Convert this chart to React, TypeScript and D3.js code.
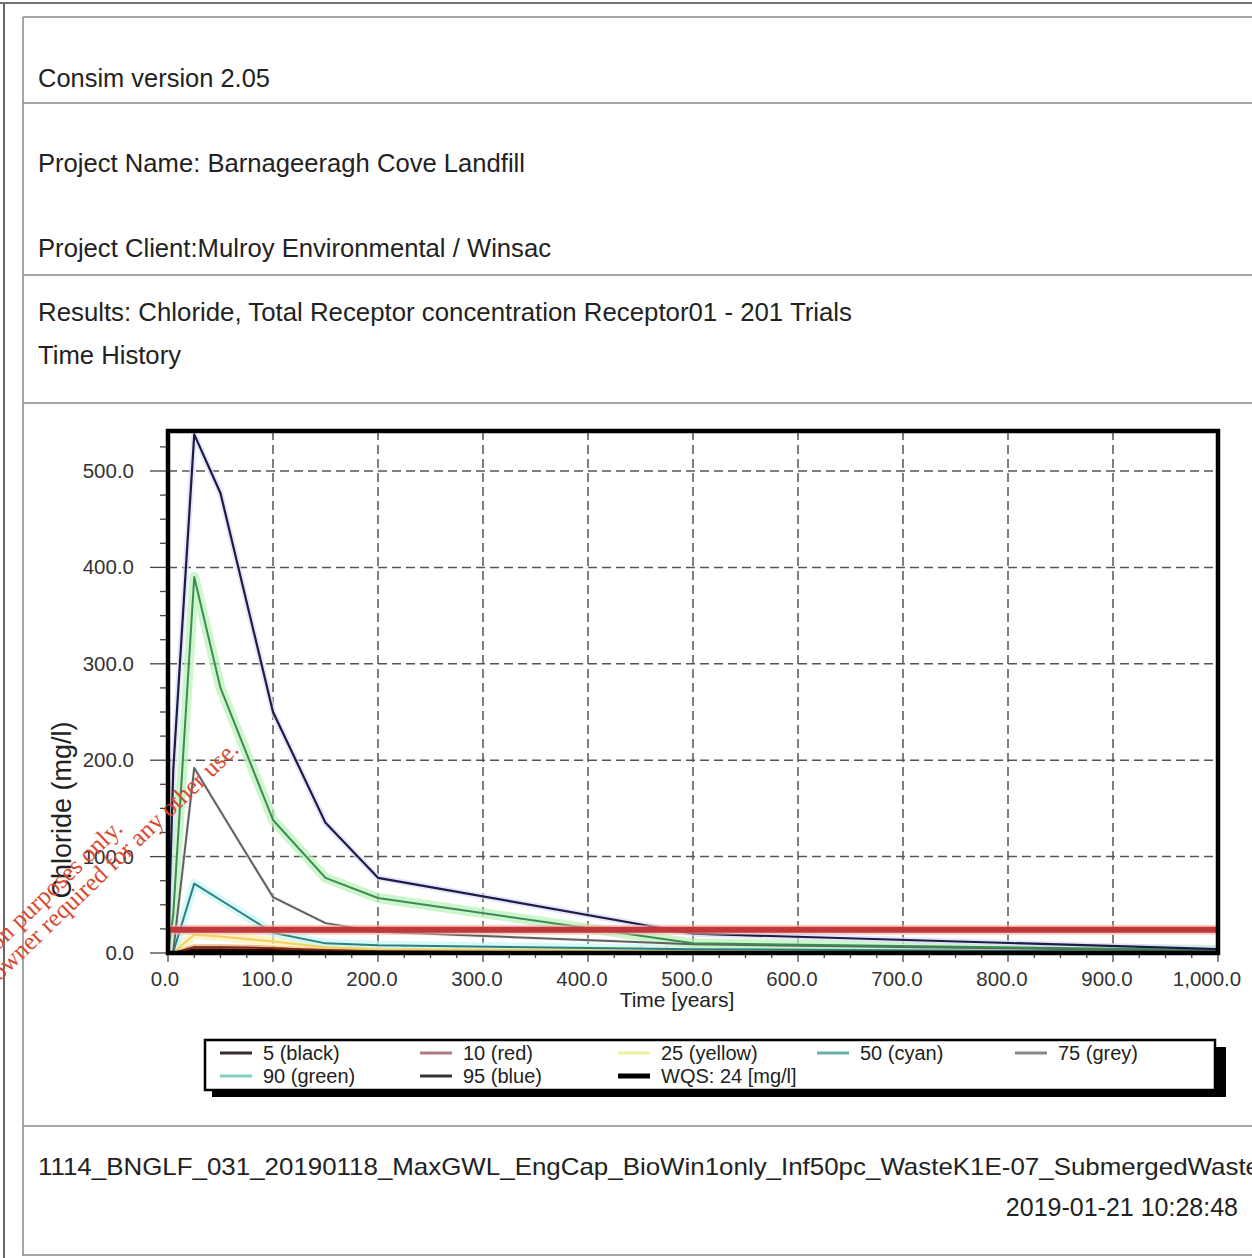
import React from "react";
import * as d3 from "d3";

const times = [0, 5, 25, 50, 100, 150, 200, 500, 1000];
const p95 = [0, 190, 538, 477, 250, 135, 78, 20, 4];
const p90 = [0, 40, 390, 275, 138, 78, 57, 10, 3];
const p75 = [0, 2, 192, 147, 58, 31, 22, 9, 2];
const p50 = [0, 1, 72, 55, 21, 10, 8, 4, 1];
const p25 = [0, 0.5, 19, 17, 12, 6, 4, 2, 0.5];
const p10 = [0, 0.3, 6, 6, 5, 3, 2, 1, 0.3];
const p5 = [0, 0.2, 3, 3, 2.5, 1.5, 1, 0.5, 0.2];
const wqs = 24;

const xTicks = [0, 100, 200, 300, 400, 500, 600, 700, 800, 900, 1000];
const yTicks = [0, 100, 200, 300, 400, 500];

const legendRow1 = ["5 (black)", "10 (red)", "25 (yellow)", "50 (cyan)", "75 (grey)"];
const legendRow2 = ["90 (green)", "95 (blue)", "WQS: 24 [mg/l]"];

const headerLines = [
  { text: "Consim version 2.05", y: 87, len: 232 },
  { text: "Project Name: Barnageeragh Cove Landfill", y: 172, len: 487 },
  { text: "Project Client:Mulroy Environmental / Winsac", y: 257, len: 513 },
  { text: "Results: Chloride, Total Receptor concentration Receptor01 - 201 Trials", y: 321, len: 814 },
  { text: "Time History", y: 364, len: 143 },
];

const series = [
  { vals: p5, color: "#2a0800", glow: "#6a3a18", gw: 7, w: 3 },
  { vals: p10, color: "#7a2a14", glow: "#e0a070", gw: 6, w: 2 },
  { vals: p25, color: "#f0d060", glow: "#fff0b0", gw: 9, w: 2 },
  { vals: p50, color: "#2d7f80", glow: "#c4f6f6", gw: 9, w: 2 },
  { vals: p75, color: "#606060", glow: "#ececec", gw: 4, w: 2 },
  { vals: p90, color: "#3e8a55", glow: "#b6f2b6", gw: 10, w: 2 },
  { vals: p95, color: "#1c1c44", glow: "#dcdcfa", gw: 6, w: 2.2 },
];

const legendSwatches = ["#3a2a2a", "#b07a84", "#eef0a0", "#6ab0a8", "#888888", "#80d0c0", "#333333", "#000000"];

export default function App() {
  const W = 1252, H = 1258;
  const x = d3.scaleLinear().domain([0, 1000]).range([168, 1218]);
  const y = d3.scaleLinear().domain([0, 541.5]).range([953, 431]);
  const font = "'Liberation Sans', Arial, sans-serif";
  const serif = "'Liberation Serif', 'Times New Roman', serif";
  const minorX = d3.range(0, 1001, 25);
  const minorY = d3.range(0, 541, 25);

  const mk = (vals: number[]) =>
    d3.line<number>().x((_, i) => x(times[i])).y((v) => y(v))(vals) || "";

  const legCols = [220, 420, 618, 817, 1015];
  const xLabelShift = (t: number) => (t === 0 ? -3 : t === 1000 ? -11 : -6);

  return (
    <svg width={W} height={H} style={{ position: "absolute", left: 0, top: 0, display: "block", background: "#fff" }}>
      <defs>
        <clipPath id="plotclip">
          <rect x={168} y={431} width={1050} height={524} />
        </clipPath>
      </defs>
      <rect x={0} y={0} width={W} height={H} fill="#fff" />
      {/* page frame */}
      <line x1={0} y1={3} x2={W} y2={3} stroke="#444" strokeWidth={1.5} />
      <line x1={4} y1={3} x2={4} y2={H} stroke="#666" strokeWidth={2} />
      <line x1={23} y1={17} x2={23} y2={1256} stroke="#888" strokeWidth={1.5} />
      {[17, 103, 275, 403, 1126, 1255].map((yy) => (
        <line key={yy} x1={23} y1={yy} x2={W} y2={yy} stroke="#8a8a8a" strokeWidth={1.5} />
      ))}
      {headerLines.map((h) => (
        <text key={h.text} x={38} y={h.y} fontFamily={font} fontSize={25} fill="#222" textLength={h.len} lengthAdjust="spacingAndGlyphs">
          {h.text}
        </text>
      ))}
      <text x={38} y={1175} fontFamily={font} fontSize={24} fill="#222" textLength={1222} lengthAdjust="spacingAndGlyphs">
        1114_BNGLF_031_20190118_MaxGWL_EngCap_BioWin1only_Inf50pc_WasteK1E-07_SubmergedWaste
      </text>
      <text x={1238} y={1216} fontFamily={font} fontSize={25} fill="#222" textAnchor="end">
        2019-01-21 10:28:48
      </text>

      {/* grid */}
      {yTicks.slice(1).map((t) => (
        <line key={"gy" + t} x1={x(0)} x2={x(1000)} y1={y(t)} y2={y(t)} stroke="#555" strokeWidth={1.5} strokeDasharray="9,5" />
      ))}
      {xTicks.slice(1, -1).map((t) => (
        <line key={"gx" + t} x1={x(t)} x2={x(t)} y1={y(541.5)} y2={y(0)} stroke="#555" strokeWidth={1.5} strokeDasharray="9,5" />
      ))}
      {/* minor ticks */}
      {minorY.map((t) => (
        <line key={"my" + t} x1={t % 100 === 0 ? 150 : 160} x2={168} y1={y(t)} y2={y(t)} stroke="#444" strokeWidth={1.3} />
      ))}
      {minorX.map((t) => (
        <line key={"mx" + t} x1={x(t)} x2={x(t)} y1={946} y2={t % 100 === 0 ? 962 : 958} stroke="#444" strokeWidth={1.3} />
      ))}

      {/* series */}
      <g clipPath="url(#plotclip)">
        {series.map((s, i) => (
          <path key={"g" + i} d={mk(s.vals)} fill="none" stroke={s.glow} strokeWidth={s.gw} strokeOpacity={0.7} strokeLinejoin="round" />
        ))}
        {series.map((s, i) => (
          <path key={"s" + i} d={mk(s.vals)} fill="none" stroke={s.color} strokeWidth={s.w} strokeLinejoin="round" />
        ))}
        <line x1={x(0)} x2={x(1000)} y1={y(wqs)} y2={y(wqs)} stroke="#f0b0a8" strokeWidth={10} strokeOpacity={0.6} />
        <line x1={x(0)} x2={x(1000)} y1={y(wqs)} y2={y(wqs)} stroke="#c0393a" strokeWidth={6} />
      </g>

      {/* frame */}
      <rect x={168} y={431} width={1050} height={522} fill="none" stroke="#000" strokeWidth={4.5} />

      {/* tick labels */}
      {yTicks.map((t) => (
        <text key={"ly" + t} x={134} y={y(t) + 7} textAnchor="end" fontFamily={font} fontSize={20.5} fill="#333">
          {d3.format(",.1f")(t)}
        </text>
      ))}
      {xTicks.map((t) => (
        <text key={"lx" + t} x={x(t) + xLabelShift(t)} y={986} textAnchor="middle" fontFamily={font} fontSize={20.5} fill="#333">
          {d3.format(",.1f")(t)}
        </text>
      ))}
      <text x={677} y={1007} textAnchor="middle" fontFamily={font} fontSize={21} fill="#222">
        Time [years]
      </text>
      <text transform="translate(71,810) rotate(-90)" textAnchor="middle" fontFamily={font} fontSize={27} fill="#222">
        Chloride (mg/l)
      </text>

      {/* legend */}
      <rect x={212} y={1047} width={1014} height={50} fill="#000" />
      <rect x={205} y={1040} width={1010} height={50} fill="#fff" stroke="#000" strokeWidth={2.5} />
      {legendRow1.map((lbl, i) => (
        <g key={lbl}>
          <line x1={legCols[i]} x2={legCols[i] + 32} y1={1053} y2={1053} stroke={legendSwatches[i]} strokeWidth={3} />
          <text x={legCols[i] + 43} y={1060} fontFamily={font} fontSize={20} fill="#222">{lbl}</text>
        </g>
      ))}
      {legendRow2.map((lbl, i) => (
        <g key={lbl}>
          <line x1={legCols[i]} x2={legCols[i] + 32} y1={1076} y2={1076} stroke={legendSwatches[5 + i]} strokeWidth={i === 2 ? 5 : 3} />
          <text x={legCols[i] + 43} y={1083} fontFamily={font} fontSize={20} fill="#222">{lbl}</text>
        </g>
      ))}

      {/* watermark */}
      <text transform="translate(124,830) rotate(-43.8)" textAnchor="end" fontFamily={serif} fontSize={25} fill="#d84a30">
        For inspection purposes only.
      </text>
      <text transform="translate(240,751) rotate(-43.8)" textAnchor="end" fontFamily={serif} fontSize={25} fill="#d84a30">
        Consent of copyright owner required for any other use.
      </text>
    </svg>
  );
}
